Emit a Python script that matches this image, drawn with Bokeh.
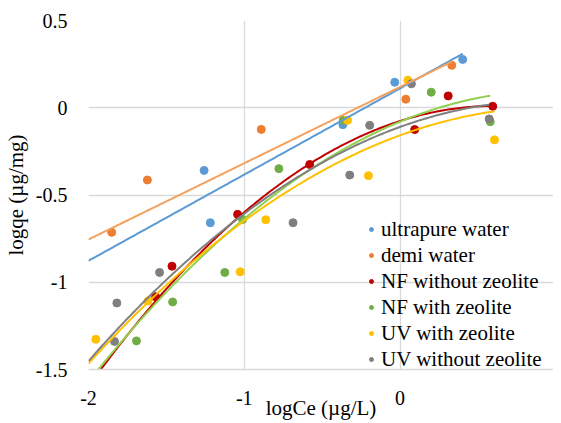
import numpy as np
from bokeh.plotting import figure
from bokeh.models import FixedTicker, Range1d, Legend, LegendItem, Label
from bokeh.embed import file_html
from bokeh.resources import INLINE

# ---- data ----
series_names = ["ultrapure water", "demi water", "NF without zeolite",
                "NF with zeolite", "UV with zeolite", "UV without zeolite"]

ultrapure_x = [-1.258, -1.218, -0.367, -0.034, 0.402]
ultrapure_y = [-0.359, -0.659, -0.097, 0.146, 0.277]
demi_x = [-1.851, -1.622, -0.891, 0.037, 0.332]
demi_y = [-0.714, -0.414, -0.124, 0.049, 0.243]
nf_wo_x = [-1.569, -1.464, -1.043, -0.580, 0.094, 0.309, 0.595]
nf_wo_y = [-1.083, -0.908, -0.611, -0.325, -0.125, 0.068, 0.008]
nf_w_x = [-1.692, -1.460, -1.125, -1.011, -0.778, -0.365, 0.200, 0.579]
nf_w_y = [-1.336, -1.113, -0.944, -0.640, -0.349, -0.072, 0.089, -0.080]
uv_w_x = [-1.953, -1.618, -1.026, -0.862, -0.337, -0.203, 0.050, 0.606]
uv_w_y = [-1.327, -1.107, -0.940, -0.642, -0.072, -0.389, 0.158, -0.184]
uv_wo_x = [-1.833, -1.818, -1.544, -0.687, -0.323, -0.195, 0.073, 0.572]
uv_wo_y = [-1.339, -1.119, -0.944, -0.659, -0.386, -0.101, 0.137, -0.064]

# trendline coefficients (highest power first)
ultrapure_trend = [0.494, 0.111]
demi_trend = [0.437, 0.119]
nf_wo_trend = [-0.237, 0.286, -0.076]
nf_w_trend = [-0.189, 0.367, -0.080]
uv_w_trend = [-0.164, 0.326, -0.158]
uv_wo_trend = [-0.174, 0.323, -0.110]

x_ticks = [-2, -1, 0, 1]
x_tick_labels = ["-2", "-1", "0", "1"]
y_ticks = [-1.5, -1, -0.5, 0, 0.5]
y_tick_labels = ["-1.5", "-1", "-0.5", "0", "0.5"]

marker_colors = ["#5B9BD5", "#ED7D31", "#C00000", "#70AD47", "#FFC000", "#7F7F7F"]
line_colors = ["#5B9BD5", "#F4A15D", "#C00000", "#92D050", "#FFC000", "#808080"]

xs = [ultrapure_x, demi_x, nf_wo_x, nf_w_x, uv_w_x, uv_wo_x]
ys = [ultrapure_y, demi_y, nf_wo_y, nf_w_y, uv_w_y, uv_wo_y]
trends = [ultrapure_trend, demi_trend, nf_wo_trend, nf_w_trend, uv_w_trend, uv_wo_trend]

FONT = "Liberation Serif"

p = figure(width=553, height=422, output_backend="svg", toolbar_location=None,
           x_range=Range1d(-2, 0.985), y_range=Range1d(-1.5, 0.5),
           min_border_left=80, min_border_right=0, min_border_top=20,
           min_border_bottom=53)
p.outline_line_color = None
p.background_fill_color = "white"
p.border_fill_color = "white"

renderers = []
for x, y, c in zip(xs, ys, marker_colors):
    r = p.scatter(x, y, size=8, color=c, line_color=c)
    renderers.append(r)

for x, coef, c in zip(xs, trends, line_colors):
    lx = np.linspace(-2.0, max(x), 200)
    ly = np.polyval(coef, lx)
    p.line(lx, ly, line_color=c, line_width=2)

# axes
p.xaxis.ticker = FixedTicker(ticks=x_ticks)
p.yaxis.ticker = FixedTicker(ticks=y_ticks)
p.xaxis.major_label_overrides = {t: l for t, l in zip(x_ticks, x_tick_labels)}
p.yaxis.major_label_overrides = {t: l for t, l in zip(y_ticks, y_tick_labels)}
p.xgrid.ticker = FixedTicker(ticks=x_ticks)
p.ygrid.ticker = FixedTicker(ticks=y_ticks)
p.grid.grid_line_color = "#D9D9D9"
p.grid.grid_line_width = 1.3

for ax in (p.xaxis, p.yaxis):
    ax.major_tick_line_color = None
    ax.minor_tick_line_color = None
    ax.major_label_text_font = FONT
    ax.major_label_text_font_size = "20px"
    ax.major_label_text_color = "black"
    ax.axis_label_text_font = FONT
    ax.axis_label_text_font_size = "21px"
    ax.axis_label_text_font_style = "normal"
    ax.axis_label_text_color = "black"

p.xaxis.axis_line_color = "#D9D9D9"
p.xaxis.axis_line_width = 1.5
p.yaxis.axis_line_color = None
p.xaxis.axis_label = "logCe (\u00b5g/L)"
p.yaxis.axis_label = "logqe (\u00b5g/mg)"
p.xaxis.major_label_standoff = 15
p.xaxis.axis_label_standoff = -12
p.yaxis.major_label_standoff = 15
p.yaxis.axis_label_standoff = 5

# the last tick label sits at the plot's right edge and is cut by it, as in the reference
p.add_layout(Label(x=x_ticks[-1], y=-1.5, y_offset=-15, text=x_tick_labels[-1],
                   text_align="center", text_baseline="top",
                   text_font=FONT, text_font_size="20px", text_color="black"))

legend = Legend(items=[LegendItem(label=n, renderers=[r]) for n, r in zip(series_names, renderers)],
                location=(278, -3))
legend.padding = 0
legend.margin = 0
legend.spacing = 0
legend.border_line_color = None
legend.background_fill_alpha = 0
legend.glyph_width = 10
legend.glyph_height = 26
legend.label_height = 26
legend.label_standoff = 5
legend.label_text_font = FONT
legend.label_text_font_size = "21px"
legend.label_text_color = "black"
p.add_layout(legend)

open("out.html", "w").write(file_html(p, INLINE))
